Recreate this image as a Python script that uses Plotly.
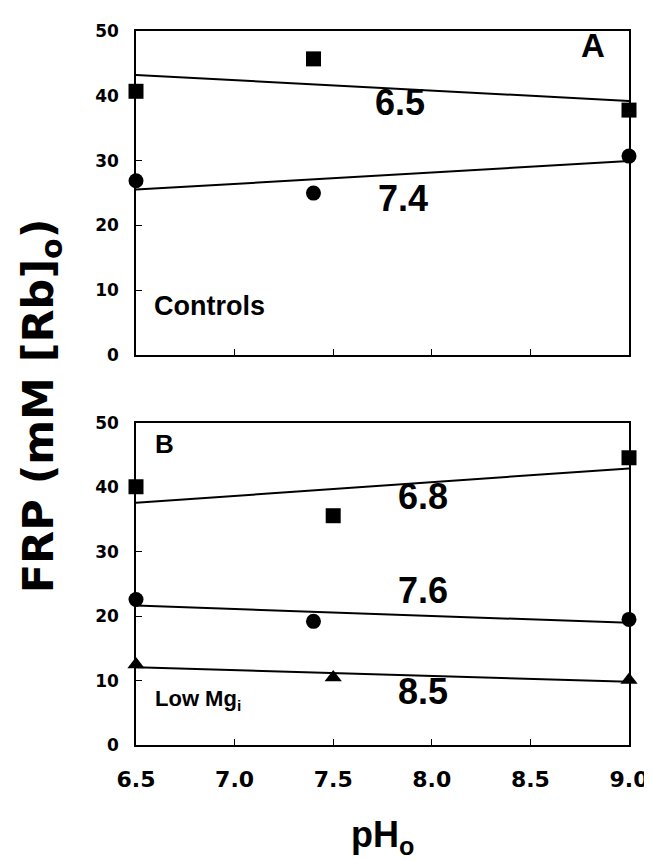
import numpy as np
import plotly.graph_objects as go

# Panel A (Controls)
a_sq_x = [6.5, 7.4, 9.0]
a_sq_y = [40.7, 45.7, 37.8]
a_ci_x = [6.5, 7.4, 9.0]
a_ci_y = [26.9, 25.0, 30.7]
# Panel B (Low Mg_i)
b_sq_x = [6.5, 7.5, 9.0]
b_sq_y = [40.1, 35.6, 44.6]
b_ci_x = [6.5, 7.4, 9.0]
b_ci_y = [22.6, 19.2, 19.5]
b_tr_x = [6.5, 7.5, 9.0]
b_tr_y = [12.5, 10.5, 10.1]

x_ticks = [6.5, 7.0, 7.5, 8.0, 8.5, 9.0]
x_tick_text = ["6.5", "7.0", "7.5", "8.0", "8.5", "9.0"]
y_ticks = [0, 10, 20, 30, 40, 50]

FONT = "Liberation Sans"
fig = go.Figure()

def add_series(xs, ys, symbol, xa, ya):
    fig.add_trace(go.Scatter(x=xs, y=ys, mode="markers", xaxis=xa, yaxis=ya,
                             marker=dict(symbol=symbol, size=15, color="black"),
                             cliponaxis=False, showlegend=False))
    k, b = np.polyfit(xs, ys, 1)
    fx = [6.5, 9.0]
    fig.add_trace(go.Scatter(x=fx, y=[k * v + b for v in fx], mode="lines", xaxis=xa, yaxis=ya,
                             line=dict(color="black", width=2),
                             cliponaxis=False, showlegend=False))

add_series(a_sq_x, a_sq_y, "square", "x", "y")
add_series(a_ci_x, a_ci_y, "circle", "x", "y")
add_series(b_sq_x, b_sq_y, "square", "x2", "y2")
add_series(b_ci_x, b_ci_y, "circle", "x2", "y2")
add_series(b_tr_x, b_tr_y, "triangle-up", "x2", "y2")

axis_common = dict(range=[6.5, 9.0], tickvals=x_ticks, ticks="inside", ticklen=6,
                   tickcolor="black", showline=True, linecolor="black", linewidth=1.5,
                   mirror=True, showgrid=False, zeroline=False)
yaxis_common = dict(range=[0, 50], tickvals=y_ticks, ticks="inside", ticklen=6,
                    tickcolor="black", showline=True, linecolor="black", linewidth=1.5,
                    mirror=True, showgrid=False, zeroline=False,
                    tickfont=dict(family="DejaVu Sans", size=17, color="black", weight="bold"),
                    ticklabelstandoff=12)

fig.update_layout(
    width=652, height=861,
    margin=dict(l=128, r=24, t=23, b=124),
    plot_bgcolor="white", paper_bgcolor="white",
    xaxis=dict(**axis_common, domain=[0, 1], anchor="y", showticklabels=False),
    yaxis=dict(**yaxis_common, domain=[0.546, 1], anchor="x"),
    xaxis2=dict(**axis_common, domain=[0, 1], anchor="y2", ticktext=x_tick_text,
                tickfont=dict(family="DejaVu Sans", size=22, color="black", weight="bold"),
                ticklabelstandoff=14),
    yaxis2=dict(**yaxis_common, domain=[0, 0.451], anchor="x2"),
)

def ann(text, x, y, xa, ya, size, xanchor="center"):
    fig.add_annotation(text=text, x=x, y=y, xref=xa, yref=ya, showarrow=False,
                       xanchor=xanchor, yanchor="middle", yshift=8, xshift=-3,
                       font=dict(family=FONT, size=size, color="black", weight="bold"))

ann("A", 8.835, 46.6, "x", "y", 33)
ann("6.5", 7.855, 37.7, "x", "y", 36)
ann("7.4", 7.87, 23.0, "x", "y", 36)
ann("Controls", 6.595, 6.3, "x", "y", 27, "left")
ann("B", 6.66, 45.5, "x2", "y2", 26)
ann("6.8", 7.97, 37.3, "x2", "y2", 36)
ann("7.6", 7.97, 22.8, "x2", "y2", 36)
ann("8.5", 7.97, 7.0, "x2", "y2", 36)
ann("Low Mg<sub>i</sub>", 6.6, 5.7, "x2", "y2", 22, "left")

plot_w = 652 - 128 - 24
plot_h = 861 - 23 - 124
fig.add_annotation(text="FRP (mM [Rb]<sub>o</sub>)", x=(32 - 128) / plot_w, y=(861 - 124 - 398) / plot_h,
                   xref="paper", yref="paper", xanchor="center", yanchor="middle",
                   showarrow=False, textangle=-90,
                   font=dict(family="DejaVu Sans", size=43, color="black", weight="bold"))
fig.add_annotation(text="pH<sub>o</sub>", x=0.5, y=(737 - 829) / plot_h, xref="paper", yref="paper",
                   showarrow=False, xanchor="center", yanchor="middle",
                   font=dict(family=FONT, size=36, color="black", weight="bold"))

fig.write_html("out.html")
